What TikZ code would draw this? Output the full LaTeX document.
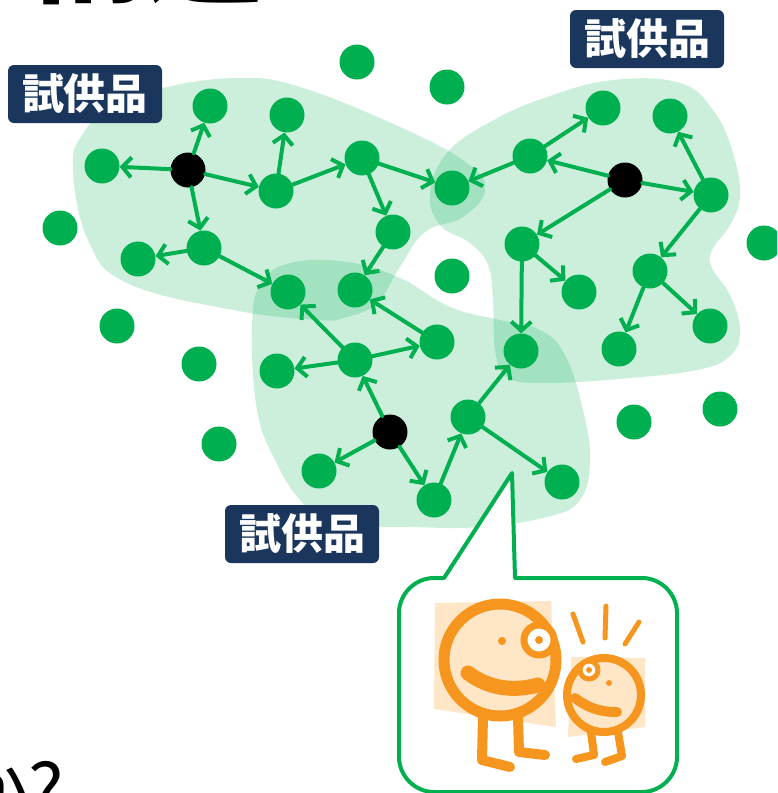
\documentclass[tikz,border=0pt]{standalone}
\usepackage{fontspec}
\newfontfamily\jp{Noto Sans CJK JP}
\usetikzlibrary{arrows.meta}
\definecolor{netgreen}{RGB}{0,176,80}
\definecolor{tagblue}{RGB}{26,54,93}
\definecolor{guyorange}{RGB}{247,150,30}
\definecolor{guypeach}{RGB}{255,230,199}
\begin{document}
\begin{tikzpicture}[x=1pt, y=-1pt,
  dot/.style={circle, fill=netgreen, minimum size=35pt, inner sep=0pt},
  hub/.style={circle, fill=black, minimum size=35pt, inner sep=0pt},
  edge/.style={draw=netgreen, line width=4pt, line cap=round, -{Straight Barb[length=9pt,width=20pt]}},
  blob/.style={fill=netgreen, fill opacity=0.2},
  tag/.style={fill=tagblue, rounded corners=6pt, minimum width=154pt, minimum height=58pt, text=white, font=\jp\bfseries\fontsize{42}{42}\selectfont},
  guy/.style={draw=guyorange, line cap=round, line join=round}]
\useasboundingbox (0,0) rectangle (777,793);
\clip (0,0) rectangle (777,793);

\node[anchor=base west, font=\jp\bfseries\fontsize{120}{120}\selectfont] (title) at (22,-7) {構造};
\node[anchor=base west, font=\jp\fontsize{75}{75}\selectfont] (ask) at (-50,818) {か?};

\fill[blob] plot[smooth cycle, tension=0.7] coordinates {(73,170) (82,135) (112,107) (167,87) (240,78) (300,87) (400,127) (467,163) (485,190) (463,217) (425,232) (400,267) (377,303) (347,317) (317,320) (233,310) (127,283) (88,240)};
\fill[blob] plot[smooth cycle, tension=0.7] coordinates {(430,193) (447,153) (490,122) (547,97) (613,80) (680,83) (713,110) (732,150) (740,195) (730,225) (712,250) (712,268) (730,295) (740,330) (730,356) (697,370) (630,378) (547,383) (507,377) (495,350) (493,300) (488,265) (470,243) (440,225)};
\fill[blob] plot[smooth cycle, tension=0.7] coordinates {(252,330) (260,285) (290,263) (347,262) (400,278) (450,307) (500,320) (540,330) (565,355) (583,410) (590,460) (580,500) (547,517) (480,527) (413,527) (330,523) (300,500) (275,460) (257,410)};

\node[hub] (a0) at (188,170) {};
\node[dot] (a1) at (210,106) {};
\node[dot] (a2) at (287,115) {};
\node[dot] (a3) at (102,166) {};
\node[dot] (a4) at (276,191) {};
\node[dot] (a5) at (362,158) {};
\node[dot] (a6) at (204,248) {};
\node[dot] (a7) at (138,259) {};
\node[dot] (a8) at (393,232) {};
\node[dot] (a9) at (288,292) {};
\node[dot] (a10) at (355,290) {};
\node[dot] (m) at (452,188) {};

\node[hub] (b0) at (625,180) {};
\node[dot] (b1) at (530,156) {};
\node[dot] (b2) at (603,108) {};
\node[dot] (b3) at (670,116) {};
\node[dot] (b4) at (711,195) {};
\node[dot] (b5) at (522,244) {};
\node[dot] (b6) at (579,292) {};
\node[dot] (b7) at (650,271) {};
\node[dot] (b8) at (619,349) {};
\node[dot] (b9) at (710,326) {};
\node[dot] (b10) at (521,351) {};

\node[hub] (c0) at (390,432) {};
\node[dot] (c1) at (355,360) {};
\node[dot] (c2) at (277,371) {};
\node[dot] (c3) at (437,342) {};
\node[dot] (c4) at (319,471) {};
\node[dot] (c5) at (434,500) {};
\node[dot] (c6) at (468,417) {};
\node[dot] (c7) at (562,482) {};

\node[dot] (u1) at (357,62) {};
\node[dot] (u2) at (447,87) {};
\node[dot] (u3) at (60,228) {};
\node[dot] (u4) at (117,326) {};
\node[dot] (u5) at (199,364) {};
\node[dot] (u6) at (219,444) {};
\node[dot] (u7) at (764,243) {};
\node[dot] (u8) at (452,276) {};
\node[dot] (u9) at (634,422) {};
\node[dot] (u10) at (720,409) {};

\draw[edge] (a0) -- (a1);
\draw[edge] (a0) -- (a3);
\draw[edge] (a0) -- (a4);
\draw[edge] (a0) -- (a6);
\draw[edge] (a4) -- (a2);
\draw[edge] (a4) -- (a5);
\draw[edge] (a5) -- (a8);
\draw[edge] (a5) -- (m);
\draw[edge] (a8) -- (a10);
\draw[edge] (a6) -- (a7);
\draw[edge] (a6) -- (a9);

\draw[edge] (b0) -- (b1);
\draw[edge] (b0) -- (b4);
\draw[edge] (b0) -- (b5);
\draw[edge] (b1) -- (b2);
\draw[edge] (b1) -- (m);
\draw[edge] (b4) -- (b3);
\draw[edge] (b4) -- (b7);
\draw[edge] (b5) -- (b6);
\draw[edge] (b5) -- (b10);
\draw[edge] (b7) -- (b8);
\draw[edge] (b7) -- (b9);

\draw[edge] (c0) -- (c1);
\draw[edge] (c0) -- (c4);
\draw[edge] (c0) -- (c5);
\draw[edge] (c1) -- (a9);
\draw[edge] (c1) -- (c2);
\draw[edge] (c1) -- (c3);
\draw[edge] (c3) -- (a10);
\draw[edge] (c5) -- (c6);
\draw[edge] (c6) -- (b10);
\draw[edge] (c6) -- (c7);

\node[tag] (t1) at (85,94) {試供品};
\node[tag] (t2) at (647,39) {試供品};
\node[tag] (t3) at (302,534) {試供品};

\draw[draw=netgreen, line width=4pt, line join=round, fill=white] (444,578) -- (512,473) -- (515,578) -- (642,578) .. controls (661,578) and (677,594) .. (677,613) -- (677,757) .. controls (677,776) and (661,792) .. (642,792) -- (434,792) .. controls (415,792) and (399,776) .. (399,757) -- (399,613) .. controls (399,594) and (415,578) .. (434,578) -- cycle;

% big fellow
\fill[guypeach] (435,603) -- (551,601) -- (556,727) -- (434,709) -- cycle;
\draw[guy, line width=10pt] (483,717) -- (482,760) -- (510,767);
\draw[guy, line width=10pt] (518,717) -- (519,752) -- (545,755);
\draw[guy, line width=11pt] (500,660) circle[radius=56];
\draw[guy, line width=15pt] (468,673) .. controls (488,688) and (512,692) .. (538,685);
\fill[guyorange] (502,641) circle[radius=4];
\draw[guy, line width=7pt, fill=white] (539,640) circle[radius=15];
\fill[guyorange] (539,640) circle[radius=4];

% small fellow
\fill[guypeach] (571,657) -- (645,658) -- (645,727) -- (568,737) -- cycle;
\draw[guy, line width=8pt] (591,732) -- (594,755) -- (576,759);
\draw[guy, line width=8pt] (618,732) -- (622,756) -- (605,762);
\draw[guy, line width=8pt] (604,695) circle[radius=37];
\draw[guy, line width=10pt] (575,698) .. controls (588,708) and (600,712) .. (617,712);
\fill[guyorange] (609,683) circle[radius=3];
\draw[guy, line width=5pt, fill=white] (589,670) circle[radius=9];
\fill[guyorange] (589,670) circle[radius=3];
\draw[guy, line width=5pt] (573,614) -- (583,642);
\draw[guy, line width=5pt] (606,606) -- (605,638);
\draw[guy, line width=5pt] (639,622) -- (625,644);
\end{tikzpicture}
\end{document}
